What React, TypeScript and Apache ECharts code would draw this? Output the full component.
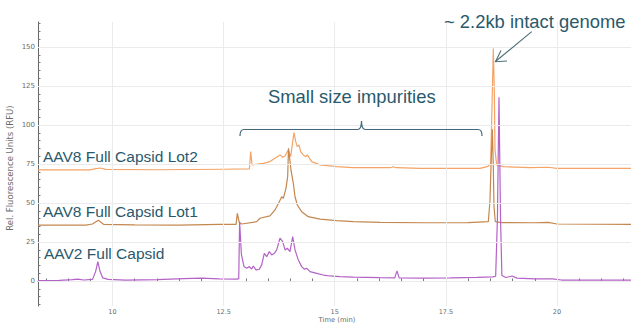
import React, { useEffect, useRef } from "react";
import * as echarts from "echarts";

// ---- axis extents & ticks ----
const X_MIN = 8.324;
const X_MAX = 21.665;
const Y_MIN = -16.05;
const Y_MAX = 166;
const xMajorTicks = [10, 12.5, 15, 17.5, 20];
const xMinorTicks = [8.5, 9, 9.5, 10, 10.5, 11, 11.5, 12, 12.5, 13, 13.5, 14, 14.5, 15, 15.5, 16, 16.5, 17, 17.5, 18, 18.5, 19, 19.5, 20, 20.5, 21, 21.5];
const yMajorTicks = [0, 25, 50, 75, 100, 125, 150];
const yMinorTicks = [-15, -10, -5, 0, 5, 10, 15, 20, 25, 30, 35, 40, 45, 50, 55, 60, 65, 70, 75, 80, 85, 90, 95, 100, 105, 110, 115, 120, 125, 130, 135, 140, 145, 150, 155, 160, 165];

// ---- AAV8 Full Capsid Lot2 (light orange) ----
const lot2Time = [8.324, 9.5, 9.6, 9.72, 9.85, 11, 12.5, 13.08, 13.109, 13.14, 13.393, 13.543, 13.768, 13.829, 13.881, 13.955, 14.009, 14.054, 14.083, 14.122, 14.157, 14.196, 14.234, 14.293, 14.35, 14.382, 14.481, 14.668, 15.044, 15.417, 16.25, 16.317, 16.38, 16.918, 18.268, 18.45, 18.508, 18.538, 18.567, 18.59, 18.605, 18.643, 18.792, 19.393, 19.8, 20, 21.665];
const lot2Value = [71.2, 71.2, 71.8, 72.4, 71.5, 71.3, 71.6, 71.8, 82.9, 74.4, 75.4, 76.5, 80.8, 79.3, 80.1, 84, 79.7, 89.3, 95.1, 89.3, 86.1, 87.2, 82.9, 80.8, 79.7, 80.8, 76.5, 74.4, 73.3, 72.6, 72.6, 73.2, 72.6, 72.2, 72.2, 73.5, 75.4, 111.7, 149, 122, 84, 74.4, 73.3, 72.6, 72.9, 72.2, 72.2];

// ---- AAV8 Full Capsid Lot1 (tan) ----
const lot1Time = [8.324, 9.4, 9.55, 9.68, 9.8, 10.5, 11.5, 12.418, 12.78, 12.808, 12.853, 12.906, 13.244, 13.318, 13.543, 13.656, 13.753, 13.806, 13.843, 13.903, 13.941, 13.96, 14.016, 14.068, 14.106, 14.158, 14.256, 14.405, 14.668, 15.044, 15.417, 16.018, 17, 18, 18.455, 18.493, 18.515, 18.545, 18.567, 18.583, 18.612, 18.756, 19.5, 19.8, 20, 21.665];
const lot1Value = [35.8, 35.8, 36.5, 38.9, 36.3, 35.9, 35.8, 36.3, 36.3, 43.4, 37.4, 36.5, 38, 40.2, 41.7, 45.5, 50.8, 54, 53, 59.4, 66.9, 85, 71, 62.6, 54, 48.7, 44.4, 41.2, 39.6, 38.7, 38, 37.6, 37.3, 37.4, 38, 51.9, 73.3, 97.2, 73.3, 47.6, 38, 37.4, 37.3, 37.6, 36.5, 36.3];

// ---- AAV2 Full Capsid (purple) ----
const aav2Time = [8.324, 8.8, 9.1, 9.22, 9.35, 9.55, 9.62, 9.67, 9.72, 9.78, 9.9, 10.3, 11, 11.6, 12, 12.4, 12.8, 12.84, 12.86, 12.9, 12.958, 13.019, 13.078, 13.131, 13.168, 13.228, 13.303, 13.356, 13.415, 13.469, 13.528, 13.581, 13.64, 13.694, 13.768, 13.829, 13.881, 13.933, 13.993, 14.054, 14.106, 14.18, 14.256, 14.32, 14.37, 14.443, 14.594, 14.743, 14.893, 15.118, 15.418, 16.018, 16.35, 16.4, 16.45, 17, 17.6, 18.2, 18.55, 18.62, 18.66, 18.695, 18.73, 18.76, 18.85, 18.99, 19.1, 19.5, 19.9, 20.1, 21.665];
const aav2Value = [0.3, 0.4, 0.8, 1.2, 0.6, 1, 6, 12.4, 6, 2, 1, 0.6, 0.8, 1.5, 1.8, 1.3, 1.2, 1.5, 38, 17, 9.2, 8.1, 9.2, 7.7, 9.6, 7.1, 7.5, 10.3, 17.7, 15.6, 18.8, 16.7, 17.7, 19.9, 27.4, 25.2, 19.9, 21, 18.8, 28.4, 19.9, 13.5, 9.2, 7.5, 8.1, 6, 4.9, 3.8, 3.2, 2.8, 2.4, 2.1, 2, 6.5, 2, 1.8, 2, 2.3, 2.6, 3, 40, 117.7, 40, 3.5, 2.2, 3.2, 1.8, 1.4, 1.3, 0.6, 0.6];

// ---- annotation texts ----
const seriesLabels = ["AAV8 Full Capsid Lot2", "AAV8 Full Capsid Lot1", "AAV2 Full Capsid"];
const peakNote = "~ 2.2kb intact genome";
const impurityNote = "Small size impurities";
const yTitle = "Rel. Fluorescence Units (RFU)";
const xTitle = "Time (min)";

const BRACE_PATH =
  "M240,136 Q240,129.5 244,129.5 L357.5,129.5 Q361.5,129.5 361.5,121 Q361.5,129.5 365.5,129.5 L478,129.5 Q482,129.5 482,136";

const zip = (t: number[], v: number[]) => t.map((x, i) => [x, v[i]]);

const TEXT = "#29596b";
const FONT = "'Liberation Sans', Arial, sans-serif";
const AXIS_TXT = "#6a6a6a";

export default function App() {
  const ref = useRef<HTMLDivElement>(null);
  useEffect(() => {
    document.body.style.margin = "0";
    echarts.graphic.registerShape("brace", echarts.graphic.extendPath(BRACE_PATH, {}));
    const chart = echarts.init(ref.current!, null, { renderer: "svg" });
    const lineSeries = (name: string, data: number[][], color: string) => ({
      name,
      type: "line",
      data,
      showSymbol: false,
      symbol: "none",
      z: 3,
      lineStyle: { color, width: 1.2 },
      xAxisIndex: 0,
      yAxisIndex: 0,
    });
    const gridLine = { color: "#ebebeb", width: 1, type: "solid" };
    chart.setOption({
      animation: false,
      backgroundColor: "#ffffff",
      grid: { left: 38, right: 0, top: 22, bottom: 18, containLabel: false },
      xAxis: [
        {
          type: "value",
          min: X_MIN,
          max: X_MAX,
          position: "bottom",
          axisLine: { show: true, lineStyle: { color: "#666", width: 1 } },
          axisTick: { show: true, inside: true, length: 3.5, customValues: xMajorTicks, lineStyle: { color: "#666" } },
          axisLabel: { show: true, customValues: xMajorTicks, fontSize: 6.5, color: AXIS_TXT, margin: 2, fontFamily: "DejaVu Sans" },
          splitLine: { show: false },
        },
        {
          type: "value",
          min: X_MIN,
          max: X_MAX,
          position: "bottom",
          axisLine: { show: false },
          axisTick: { show: true, inside: true, length: 2.5, customValues: xMinorTicks, lineStyle: { color: "#777" } },
          axisLabel: { show: false },
          splitLine: { show: false },
        },
      ],
      yAxis: [
        {
          type: "value",
          min: Y_MIN,
          max: Y_MAX,
          axisLine: { show: true, lineStyle: { color: "#666", width: 1 } },
          axisTick: { show: true, inside: true, length: 3.5, customValues: yMajorTicks, lineStyle: { color: "#666" } },
          axisLabel: { show: true, customValues: yMajorTicks, fontSize: 7, color: AXIS_TXT, margin: 3, fontFamily: "DejaVu Sans" },
          splitLine: { show: false },
        },
        {
          type: "value",
          min: Y_MIN,
          max: Y_MAX,
          position: "left",
          axisLine: { show: false },
          axisTick: { show: true, inside: true, length: 2.5, customValues: yMinorTicks, lineStyle: { color: "#777" } },
          axisLabel: { show: false },
          splitLine: { show: false },
        },
      ],
      series: [
        {
          type: "line",
          data: [],
          z: 1,
          silent: true,
          xAxisIndex: 0,
          yAxisIndex: 0,
          markLine: {
            silent: true,
            symbol: "none",
            label: { show: false },
            lineStyle: gridLine,
            data: [
              ...xMajorTicks.map((v) => ({ xAxis: v })),
              ...yMajorTicks.map((v) => ({ yAxis: v })),
            ],
          },
        },
        lineSeries(seriesLabels[0], zip(lot2Time, lot2Value), "#f3a466"),
        lineSeries(seriesLabels[1], zip(lot1Time, lot1Value), "#c4874f"),
        lineSeries(seriesLabels[2], zip(aav2Time, aav2Value), "#b462c6"),
      ],
      graphic: {
        elements: [
          {
            type: "text", x: 43, y: 156, z: 10,
            style: { text: seriesLabels[0], fontSize: 15.5, fontFamily: FONT, fill: TEXT, verticalAlign: "middle", textVerticalAlign: "middle" },
          },
          {
            type: "text", x: 43, y: 211, z: 10,
            style: { text: seriesLabels[1], fontSize: 15.5, fontFamily: FONT, fill: TEXT, verticalAlign: "middle", textVerticalAlign: "middle" },
          },
          {
            type: "text", x: 44, y: 253, z: 10,
            style: { text: seriesLabels[2], fontSize: 15.5, fontFamily: FONT, fill: TEXT, verticalAlign: "middle", textVerticalAlign: "middle" },
          },
          {
            type: "text", x: 268, y: 96, z: 10,
            style: { text: impurityNote, fontSize: 18.4, fontFamily: FONT, fill: TEXT, verticalAlign: "middle", textVerticalAlign: "middle" },
          },
          {
            type: "text", x: 444, y: 21, z: 10,
            style: { text: peakNote, fontSize: 18.4, fontFamily: FONT, fill: TEXT, verticalAlign: "middle", textVerticalAlign: "middle" },
          },
          {
            type: "brace", x: 0, y: 0, z: 10,
            style: { fill: "none", stroke: "#44687a", lineWidth: 1.2 },
          },
          {
            type: "line", z: 10,
            shape: { x1: 531.7, y1: 31.7, x2: 495.5, y2: 61.5 },
            style: { stroke: "#4e6f78", lineWidth: 1.1 },
          },
          {
            type: "polyline", z: 10,
            shape: { points: [[507, 61], [495.5, 61.7], [501, 50.5]] },
            style: { stroke: "#4e6f78", lineWidth: 1.1, fill: "none" },
          },
          {
            type: "text", x: 10, y: 168, rotation: Math.PI / 2, z: 10,
            style: { text: yTitle, fontSize: 8.5, fontFamily: "DejaVu Sans", fill: AXIS_TXT, align: "center", textAlign: "center", verticalAlign: "middle", textVerticalAlign: "middle" },
          },
          {
            type: "text", x: 337, y: 320, z: 10,
            style: { text: xTitle, fontSize: 6.8, fontFamily: "DejaVu Sans", fill: AXIS_TXT, align: "center", textAlign: "center", verticalAlign: "middle", textVerticalAlign: "middle" },
          },
        ],
      },
    });
    return () => chart.dispose();
  }, []);
  return <div ref={ref} style={{ width: 631, height: 324 }} />;
}
